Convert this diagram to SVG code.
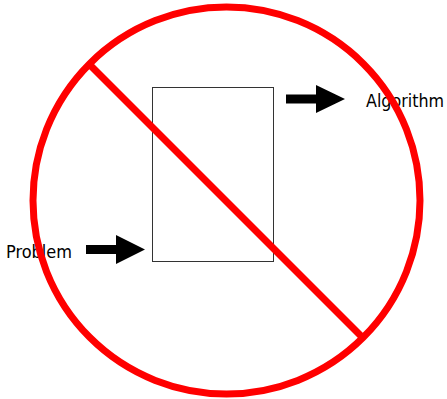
<svg xmlns="http://www.w3.org/2000/svg" width="447" height="399" viewBox="0 0 447 399">
<style>
.lbl{font-family:"DejaVu Sans Condensed","DejaVu Sans",sans-serif;font-size:18px;fill:#000}
.arrow{fill:#000}
.box{fill:#fff;stroke:#333;stroke-width:1}
</style>
<rect width="447" height="399" fill="#fff"/>
<g id="box"><rect class="box" x="152.5" y="87.5" width="121" height="174"/></g>
<g id="problem"><text class="lbl" x="6" y="258" textLength="66" lengthAdjust="spacingAndGlyphs">Problem</text></g>
<g id="algorithm"><text class="lbl" x="366" y="107" textLength="78" lengthAdjust="spacingAndGlyphs">Algorithm</text></g>
<g id="connectors">
<polygon class="arrow" points="86,245 116,245 116,235 145,249.5 116,264 116,254 86,254"/>
<polygon class="arrow" points="286,94.5 316,94.5 316,85 345,99 316,113 316,103.5 286,103.5"/>
</g>
<g id="no-sign" fill="none" stroke="#ff0000" stroke-width="7">
<circle cx="226.5" cy="200.5" r="193.5"/>
<line x1="89" y1="64" x2="362" y2="337"/>
</g>
</svg>
